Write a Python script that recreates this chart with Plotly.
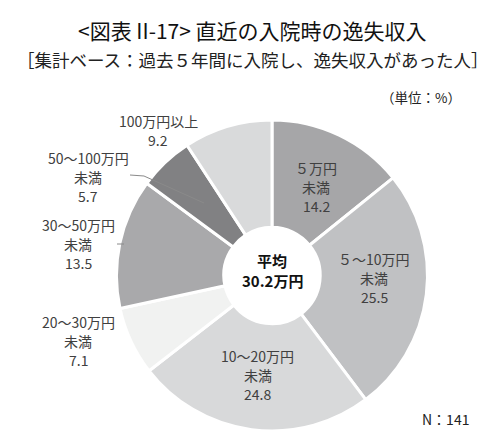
import plotly.graph_objects as go

categories = ["5万円未満", "5～10万円未満", "10～20万円未満", "20～30万円未満",
              "30～50万円未満", "50～100万円未満", "100万円以上"]
label_lines = [["５万円", "未満"], ["５～10万円", "未満"], ["10～20万円", "未満"], ["20～30万円", "未満"],
               ["30～50万円", "未満"], ["50～100万円", "未満"], ["100万円以上"]]
values = [14.2, 25.5, 24.8, 7.1, 13.5, 5.7, 9.2]
colors = ["#a6a6a8", "#c0c1c3", "#d8d9da", "#f1f2f1", "#a9a9ab", "#818183", "#d9dadb"]

W, H = 488, 432
FONT = "Noto Sans CJK JP"

# top line center positions in pixels (layout only)
label_pos = [(308, 160), (366, 251), (250, 348), (70, 314), (70, 217), (80, 150), (150, 113)]
LINE_GAP = 19

def px(x):
    return x / W

def py(y):
    return 1 - y / H

fig = go.Figure(go.Pie(
    labels=categories,
    values=values,
    sort=False,
    direction="clockwise",
    rotation=0,
    hole=0.31,
    marker=dict(colors=colors, line=dict(color="white", width=3)),
    textinfo="none",
    hoverinfo="label+value",
    showlegend=False,
    domain=dict(x=[px(108), px(420)], y=[py(423), py(112)]),
))

annotations = []
for lines, v, (x, y) in zip(label_lines, values, label_pos):
    for i, t in enumerate(lines + [f"{v:.1f}"]):
        annotations.append(dict(
            x=px(x), y=py(y + i * LINE_GAP), xref="paper", yref="paper",
            text=t, showarrow=False,
            font=dict(family=FONT, size=14, color="#404040"),
            xanchor="center", yanchor="middle",
        ))

annotations += [
    dict(x=px(244), y=py(22), xref="paper", yref="paper", showarrow=False,
         text="&lt;図表 II-17&gt; 直近の入院時の逸失収入",
         font=dict(family=FONT, size=21, color="#111111"), xanchor="center", yanchor="middle"),
    dict(x=px(245), y=py(51), xref="paper", yref="paper", showarrow=False,
         text="［集計ベース：過去５年間に入院し、逸失収入があった人］",
         font=dict(family=FONT, size=17.5, color="#222222"), xanchor="center", yanchor="middle"),
    dict(x=px(455), y=py(89), xref="paper", yref="paper", showarrow=False,
         text="（単位：%）",
         font=dict(family=FONT, size=13.5, color="#222222"), xanchor="right", yanchor="middle"),
    dict(x=px(463), y=py(411), xref="paper", yref="paper", showarrow=False,
         text="N：141",
         font=dict(family=FONT, size=14, color="#222222"), xanchor="right", yanchor="middle"),
    dict(x=px(264), y=py(252), xref="paper", yref="paper", showarrow=False,
         text="<b>平均</b>",
         font=dict(family=FONT, size=15, color="#111111"), xanchor="center", yanchor="middle"),
    dict(x=px(264), y=py(272), xref="paper", yref="paper", showarrow=False,
         text="<b>30.2万円</b>",
         font=dict(family=FONT, size=15, color="#111111"), xanchor="center", yanchor="middle"),
]

shapes = [
    dict(type="path", xref="paper", yref="paper",
         path=f"M {px(122)},{py(167)} L {px(136)},{py(168)} L {px(196)},{py(195)}",
         line=dict(color="#8a8a8a", width=1)),
    dict(type="line", xref="paper", yref="paper",
         x0=px(109), y0=py(236), x1=px(116), y1=py(236),
         line=dict(color="#8a8a8a", width=1)),
]

fig.update_layout(
    width=W, height=H,
    margin=dict(l=0, r=0, t=0, b=0),
    paper_bgcolor="white", plot_bgcolor="white",
    annotations=annotations,
    shapes=shapes,
    font=dict(family=FONT),
)

fig.write_html("out.html")
